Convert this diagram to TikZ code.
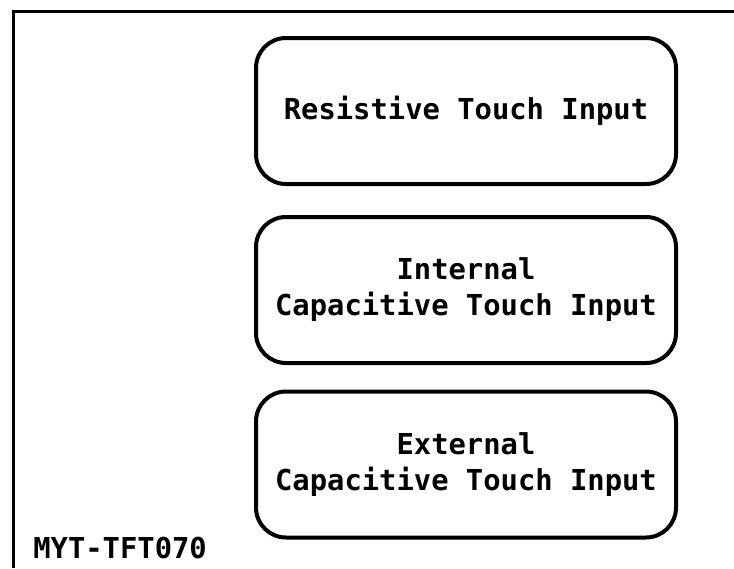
\documentclass[tikz,border=0pt]{standalone}
\usepackage{fontspec}
\setmonofont{DejaVu Sans Mono}
\usetikzlibrary{positioning}
\newcommand{\inputfont}{\fontsize{16.4}{20.5}\selectfont\ttfamily\bfseries}
\tikzset{%
	% Specifications for style of nodes:
	base/.style = {rectangle, rounded corners=0.6cm, draw=black,
		line width=0.08cm, minimum width=8.4cm, minimum height=2.92cm,
		text centered, font=\inputfont},
	touchinput/.style = {base, align=center},
	framelabel/.style = {anchor=base west, inner sep=0pt, font=\inputfont},
	frameline/.style = {line width=0.06cm},
}
\begin{document}
\begin{tikzpicture}
		\useasboundingbox (0,0) rectangle (14.68,-11.36);
		% Outer frame (open at the right and bottom)
		\coordinate (framebl) at (0.27,-11.36);
		\coordinate (frametl) at (0.27,-0.23);
		\coordinate (frametr) at (14.68,-0.23);
		\draw[frameline] (framebl) -- (frametl) -- (frametr);
		% Specification of nodes (position, etc.)
		\node (resistive) [touchinput] at (9.32,-2.22) {Resistive Touch Input};
		\node (internal)  [touchinput, below=0.58cm of resistive] {Internal\\Capacitive Touch Input};
		\node (external)  [touchinput, below=0.49cm of internal] {External\\Capacitive Touch Input};
		\node (model)     [framelabel] at (0.66,-11.16) {MYT-TFT070};
	\end{tikzpicture}
\end{document}
